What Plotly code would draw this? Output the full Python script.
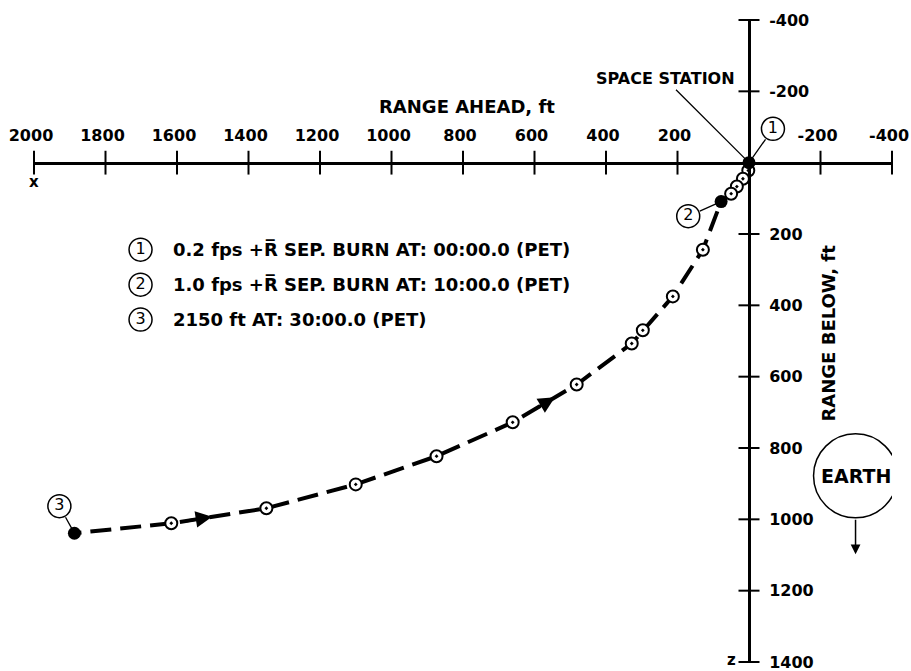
import plotly.graph_objects as go
import numpy as np

# ---------------- data ----------------
# trajectory: range ahead (ft, +x to the left) and range below (ft, +z downward)
traj_x = [0, 2, 17, 34, 50, 78, 129, 213, 297, 328, 482, 661, 874, 1100, 1350, 1616, 1887]
traj_z = [0, 22, 45, 67, 87, 109, 244, 375, 470, 507, 622, 728, 823, 902, 969, 1011, 1039]
key_idx = [0, 5, 16]            # events 1, 2, 3 (filled points)
event_labels = ["1", "2", "3"]
event_label_x = [-67, 170, 1929]
event_label_z = [-95, 150, 963]

legend_texts = [
    "0.2 fps +R\u0305 SEP. BURN AT: 00:00.0 (PET)",
    "1.0 fps +R\u0305 SEP. BURN AT: 10:00.0 (PET)",
    "2150 ft AT: 30:00.0 (PET)",
]
legend_num_x = 1702
legend_text_x = 1616
legend_z = [244, 342, 440]

x_ticks = [2000, 1800, 1600, 1400, 1200, 1000, 800, 600, 400, 200, -200, -400]
z_ticks = [-400, -200, 200, 400, 600, 800, 1000, 1200, 1400]
x_range = [2000, -400]
z_range = [1400, -400]

FONT = "DejaVu Sans"
BLACK = "#000000"

fig = go.Figure()

# trajectory dashed line
fig.add_trace(go.Scatter(x=traj_x, y=traj_z, mode="lines",
                         line=dict(color=BLACK, width=4, dash="21px,9px"),
                         hoverinfo="skip", cliponaxis=False))
# open dotted circles
open_idx = [i for i in range(len(traj_x)) if i not in key_idx]
fig.add_trace(go.Scatter(x=[traj_x[i] for i in open_idx], y=[traj_z[i] for i in open_idx],
                         mode="markers",
                         marker=dict(symbol="circle-dot", size=12, color="white",
                                     line=dict(color=BLACK, width=2)),
                         cliponaxis=False))
# filled key points
fig.add_trace(go.Scatter(x=[traj_x[i] for i in key_idx], y=[traj_z[i] for i in key_idx],
                         mode="markers", marker=dict(symbol="circle", size=13, color=BLACK),
                         cliponaxis=False))

# crossing tick marks on the axes
fig.add_trace(go.Scatter(x=x_ticks, y=[0] * len(x_ticks), mode="markers",
                         marker=dict(symbol="line-ns-open", size=17, color=BLACK,
                                     line=dict(color=BLACK, width=2)),
                         hoverinfo="skip", cliponaxis=False))
fig.add_trace(go.Scatter(x=[0] * len(z_ticks), y=z_ticks, mode="markers",
                         marker=dict(symbol="line-ew-open", size=15, color=BLACK,
                                     line=dict(color=BLACK, width=2)),
                         hoverinfo="skip", cliponaxis=False))

# circled numbers (on plot and in key)
num_x = event_label_x + [legend_num_x] * 3
num_z = event_label_z + legend_z
num_t = event_labels + event_labels
fig.add_trace(go.Scatter(x=num_x, y=num_z, mode="markers+text", text=num_t,
                         textposition="middle center",
                         textfont=dict(family=FONT, size=16, color=BLACK),
                         marker=dict(symbol="circle", size=23, color="white",
                                     line=dict(color=BLACK, width=1.5)),
                         hoverinfo="skip", cliponaxis=False))

annotations = []
# leader lines from circled numbers to event points
for k, i in enumerate(key_idx):
    annotations.append(dict(x=traj_x[i], y=traj_z[i], xref="x", yref="y",
                            ax=event_label_x[k], ay=event_label_z[k], axref="x", ayref="y",
                            text="", showarrow=True, arrowhead=0, arrowwidth=1.3,
                            arrowcolor=BLACK, standoff=5, startstandoff=11))
# key texts
for t, z in zip(legend_texts, legend_z):
    annotations.append(dict(x=legend_text_x, y=z, xref="x", yref="y", text=t,
                            showarrow=False, xanchor="left", yanchor="middle",
                            font=dict(family=FONT, size=18, color=BLACK, weight="bold")))

# direction arrows along the path
for seg, f_tip, f_tail in [(14, 0.43, 0.14), (10, 0.66, 0.31)]:
    x0, z0 = traj_x[seg + 1], traj_z[seg + 1]
    x1, z1 = traj_x[seg], traj_z[seg]
    tip = (x0 + (x1 - x0) * f_tip, z0 + (z1 - z0) * f_tip)
    tail = (x0 + (x1 - x0) * f_tail, z0 + (z1 - z0) * f_tail)
    annotations.append(dict(x=tip[0], y=tip[1], xref="x", yref="y",
                            ax=tail[0], ay=tail[1], axref="x", ayref="y",
                            text="", showarrow=True, arrowhead=2, arrowsize=1.1,
                            arrowwidth=3, arrowcolor=BLACK))

# SPACE STATION label
annotations.append(dict(x=0, y=0, xref="x", yref="y", text="SPACE STATION",
                        ax=-84, ay=-84, showarrow=True, arrowhead=0, arrowwidth=1.3,
                        arrowcolor=BLACK, standoff=5,
                        font=dict(family=FONT, size=16, color=BLACK, weight="bold")))
# axis titles
annotations.append(dict(x=790, y=-157, xref="x", yref="y", text="RANGE AHEAD, ft",
                        showarrow=False,
                        font=dict(family=FONT, size=18, color=BLACK, weight="bold")))
annotations.append(dict(x=-221, y=479, xref="x", yref="y", text="RANGE BELOW, ft",
                        showarrow=False, textangle=-90,
                        font=dict(family=FONT, size=18, color=BLACK, weight="bold")))
annotations.append(dict(x=2000, y=55, xref="x", yref="y", text="x", showarrow=False,
                        font=dict(family=FONT, size=15, color=BLACK, weight="bold")))
annotations.append(dict(x=50, y=1395, xref="x", yref="y", text="z", showarrow=False,
                        font=dict(family=FONT, size=15, color=BLACK, weight="bold")))
# EARTH symbol
annotations.append(dict(x=-298, y=878, xref="x", yref="y", text="EARTH", showarrow=False,
                        font=dict(family=FONT, size=19, color=BLACK, weight="bold")))
annotations.append(dict(x=-298, y=1098, xref="x", yref="y", ax=-298, ay=997,
                        axref="x", ayref="y", text="", showarrow=True, arrowhead=2,
                        arrowsize=1.3, arrowwidth=1.5, arrowcolor=BLACK))

shapes = [dict(type="circle", xref="x", yref="y", xsizemode="pixel", ysizemode="pixel",
               xanchor=-298, yanchor=878, x0=-42, x1=42, y0=-42, y1=42,
               line=dict(color=BLACK, width=1.5), fillcolor="rgba(0,0,0,0)")]

# plot area at screen x 34..892, y 20..662 (page margin removed in post_script)
fig.update_layout(
    width=911, height=671,
    margin=dict(l=34, r=19, t=20, b=9),
    paper_bgcolor="white", plot_bgcolor="white",
    showlegend=False, hovermode=False,
    annotations=annotations, shapes=shapes,
    xaxis=dict(range=x_range, anchor="free", position=1400 / 1800, side="top",
               showline=True, linewidth=3, linecolor=BLACK,
               tickvals=x_ticks, ticktext=[str(v) for v in x_ticks],
               ticks="outside", ticklen=14, tickcolor="rgba(0,0,0,0)",
               ticklabelshift=3, ticklabeloverflow="allow",
               tickfont=dict(family=FONT, size=16, color=BLACK, weight="bold"),
               showgrid=False, zeroline=False, automargin=False, fixedrange=True),
    yaxis=dict(range=z_range, anchor="free", position=2000 / 2400, side="right",
               showline=True, linewidth=3, linecolor=BLACK,
               tickvals=z_ticks, ticktext=[str(v) for v in z_ticks],
               ticks="outside", ticklen=15, tickcolor="rgba(0,0,0,0)",
               ticklabeloverflow="allow",
               tickfont=dict(family=FONT, size=16, color=BLACK, weight="bold"),
               showgrid=False, zeroline=False, automargin=False, fixedrange=True),
)

fig.write_html("out.html",
               config={"displayModeBar": False, "staticPlot": True},
               post_script="document.body.style.margin='0';"
                           "document.documentElement.style.overflow='hidden';")
